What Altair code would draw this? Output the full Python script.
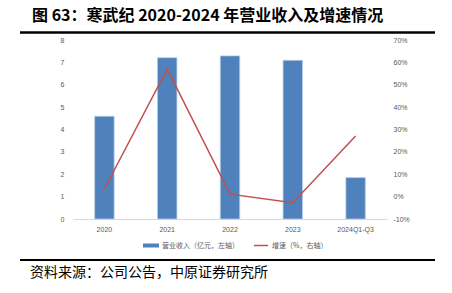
import altair as alt
import pandas as pd

years = ["2020", "2021", "2022", "2023", "2024Q1-Q3"]
revenue = [4.59, 7.21, 7.29, 7.09, 1.85]          # 亿元
growth = [3.4, 57.1, 1.1, -2.7, 27.1]             # %
left_ticks = [0, 1, 2, 3, 4, 5, 6, 7, 8]
right_ticks = [-10, 0, 10, 20, 30, 40, 50, 60, 70]

title_text = "图 63：寒武纪 2020-2024 年营业收入及增速情况"
source_text = "资料来源：公司公告，中原证券研究所"
legend_bar = "营业收入（亿元，左轴）"
legend_line = "增速（%，右轴）"

df = pd.DataFrame({"year": years, "revenue": revenue, "growth": growth})

LABEL_FONT = "Liberation Sans"
CJK = "Noto Sans CJK SC"
GREY = "#595959"

base = alt.Chart(df).encode(
    x=alt.X(
        "year:N",
        sort=years,
        scale=alt.Scale(paddingInner=0.69, paddingOuter=0.345),
        axis=alt.Axis(
            title=None, labelAngle=0, ticks=False, domain=True,
            domainColor="#d9d9d9", domainWidth=1, labelColor=GREY,
            labelFont=LABEL_FONT, labelFontSize=7, labelPadding=6, grid=False,
        ),
    )
)

bars = base.mark_bar(color="#4F81BD", stroke="#B9CDE5", strokeWidth=0.8).encode(
    y=alt.Y(
        "revenue:Q",
        scale=alt.Scale(domain=[0, 8], nice=False, zero=True),
        axis=alt.Axis(
            title=None, values=left_ticks, ticks=False, domain=False, grid=False,
            labelColor=GREY, labelFont=LABEL_FONT, labelFontSize=7, labelPadding=9,
        ),
    )
)

line = base.mark_line(color="#C0504D", strokeWidth=1.5).encode(
    y=alt.Y(
        "growth:Q",
        scale=alt.Scale(domain=[-10, 70], nice=False, zero=False),
        axis=alt.Axis(
            title=None, orient="right", values=right_ticks, ticks=False,
            domain=False, grid=False, labelColor=GREY, labelFont=LABEL_FONT,
            labelFontSize=7, labelPadding=6, labelExpr="datum.value + '%'",
        ),
    )
)

one = alt.Data(values=[{"k": 1}])

title_mark = alt.Chart(one).mark_text(
    align="left", baseline="middle", font=CJK, fontSize=16, fontWeight="bold", color="#000000"
).encode(x=alt.value(-41), y=alt.value(-24), text=alt.value(title_text))

top_rule = alt.Chart(one).mark_rule(color="#000000", strokeWidth=2.5).encode(
    x=alt.value(-53), x2=alt.value(362), y=alt.value(-7.5)
)
bottom_rule = alt.Chart(one).mark_rule(color="#000000", strokeWidth=2).encode(
    x=alt.value(-53), x2=alt.value(362), y=alt.value(220)
)

source_mark = alt.Chart(one).mark_text(
    align="left", baseline="middle", font=CJK, fontSize=14, color="#000000"
).encode(x=alt.value(-43), y=alt.value(233), text=alt.value(source_text))

leg_rect = alt.Chart(one).mark_rect(color="#4F81BD").encode(
    x=alt.value(70), x2=alt.value(86), y=alt.value(203.5), y2=alt.value(207.5)
)
leg_rect_text = alt.Chart(one).mark_text(
    align="left", baseline="middle", font=CJK, fontSize=7, color=GREY
).encode(x=alt.value(89), y=alt.value(205.5), text=alt.value(legend_bar))

leg_line = alt.Chart(one).mark_rule(color="#C0504D", strokeWidth=1.5).encode(
    x=alt.value(181), x2=alt.value(195), y=alt.value(205.5)
)
leg_line_text = alt.Chart(one).mark_text(
    align="left", baseline="middle", font=CJK, fontSize=7, color=GREY
).encode(x=alt.value(199), y=alt.value(205.5), text=alt.value(legend_line))

chart = alt.layer(
    bars, line, title_mark, top_rule, bottom_rule, source_mark,
    leg_rect, leg_rect_text, leg_line, leg_line_text,
).resolve_scale(y="independent").properties(
    width=314,
    height=179,
    autosize=alt.AutoSizeParams(type="none"),
    padding={"left": 73, "top": 40, "right": 65, "bottom": 74},
    background="white",
).configure_view(stroke=None)

chart.save("out.html", embed_options={"renderer": "svg", "actions": False})
